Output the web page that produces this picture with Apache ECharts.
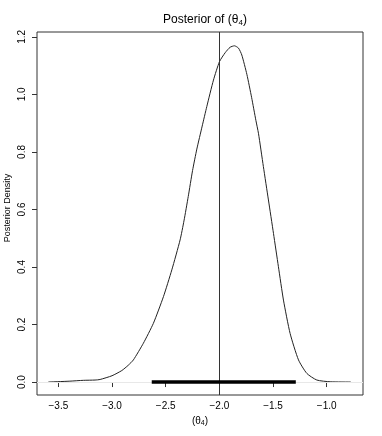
<!DOCTYPE html>
<html>
<head>
<meta charset="utf-8">
<script src="https://cdn.jsdelivr.net/npm/echarts@6/dist/echarts.min.js"></script>
<style>
  html, body { margin: 0; padding: 0; background: #fff; }
  #chart { width: 382px; height: 436px; }
</style>
</head>
<body>
<div id="chart"></div>
<script>
// posterior density of theta_4
const densityX = [-3.593, -3.40, -3.267, -3.158, -3.111, -3.00, -2.909, -2.85, -2.801, -2.708,
  -2.615, -2.521, -2.443, -2.366, -2.33, -2.29, -2.25, -2.21, -2.16, -2.117,
  -2.055, -1.999, -1.946, -1.900, -1.860, -1.822, -1.791, -1.744, -1.70, -1.66,
  -1.636, -1.590, -1.543, -1.496, -1.450, -1.403, -1.341, -1.263, -1.185, -1.092,
  -0.968, -0.776];
const densityY = [0.000, 0.003, 0.006, 0.007, 0.009, 0.022, 0.040, 0.058, 0.077, 0.135,
  0.204, 0.297, 0.390, 0.494, 0.560, 0.645, 0.735, 0.810, 0.890, 0.958,
  1.050, 1.114, 1.145, 1.164, 1.169, 1.161, 1.137, 1.070, 0.990, 0.910,
  0.865, 0.749, 0.633, 0.517, 0.401, 0.285, 0.169, 0.077, 0.030, 0.007,
  0.001, 0.000];
const interval = [-2.63, -1.288];
const trueValue = -2.0;
const xTicks = [-3.5, -3.0, -2.5, -2.0, -1.5, -1.0];
const yTicks = [0, 0.2, 0.4, 0.6, 0.8, 1.0, 1.2];

const font = 'Liberation Sans, Arial, Helvetica, sans-serif';
const minus = (v) => (v < 0 ? '\u2212' : '') + Math.abs(v).toFixed(1);

const chart = echarts.init(document.getElementById('chart'));
chart.setOption({
  animation: false,
  title: {
    text: 'Posterior of (θ{sub|4})',
    left: 200,
    top: 8,
    textAlign: 'center',
    textStyle: {
      fontFamily: font, fontSize: 12, fontWeight: 'normal', color: '#000',
      rich: { sub: { fontFamily: font, fontSize: 8, verticalAlign: 'bottom', padding: [6, 0, 0, 0] } }
    }
  },
  grid: { left: 37, right: 19, top: 32, bottom: 41, show: true, borderColor: '#333', borderWidth: 1 },
  xAxis: {
    type: 'value', min: -3.699, max: -0.662,
    axisLine: { show: false },
    splitLine: { show: false },
    axisTick: { customValues: xTicks, length: 5, lineStyle: { color: '#333' } },
    axisLabel: { customValues: xTicks, formatter: minus, fontFamily: font, fontSize: 10, color: '#000', margin: 6 },
    name: '(θ{sub|4})',
    nameLocation: 'middle',
    nameGap: 18,
    nameTextStyle: {
      fontFamily: font, fontSize: 10, color: '#000',
      rich: { sub: { fontFamily: font, fontSize: 7, verticalAlign: 'bottom', padding: [5, 0, 0, 0] } }
    }
  },
  yAxis: {
    type: 'value', min: -0.045, max: 1.217,
    axisLine: { show: false },
    splitLine: { show: false },
    axisTick: { customValues: yTicks, length: 5, lineStyle: { color: '#333' } },
    axisLabel: {
      customValues: yTicks, formatter: (v) => v.toFixed(1), rotate: 90,
      align: 'center', verticalAlign: 'bottom', margin: 10,
      fontFamily: font, fontSize: 10, color: '#000'
    }
  },
  graphic: [{
    type: 'text', x: 8, y: 208, rotation: Math.PI / 2,
    style: { text: 'Posterior Density', fontFamily: font, fontSize: 9, fill: '#000', align: 'center', verticalAlign: 'middle' }
  }],
  series: [
    {
      type: 'line',
      data: densityX.map((x, i) => [x, densityY[i]]),
      showSymbol: false,
      smooth: 0.2,
      lineStyle: { color: '#222', width: 1 },
      markLine: {
        silent: true, symbol: 'none', label: { show: false },
        data: [
          { yAxis: 0, lineStyle: { color: '#e8e8e8', width: 1, type: 'solid' } },
          { xAxis: trueValue, lineStyle: { color: '#333', width: 1, type: 'solid' } }
        ]
      }
    },
    {
      type: 'line',
      data: [[interval[0], 0], [interval[1], 0]],
      showSymbol: false,
      z: 5,
      lineStyle: { color: '#000', width: 3.5 }
    }
  ]
});
</script>
</body>
</html>
